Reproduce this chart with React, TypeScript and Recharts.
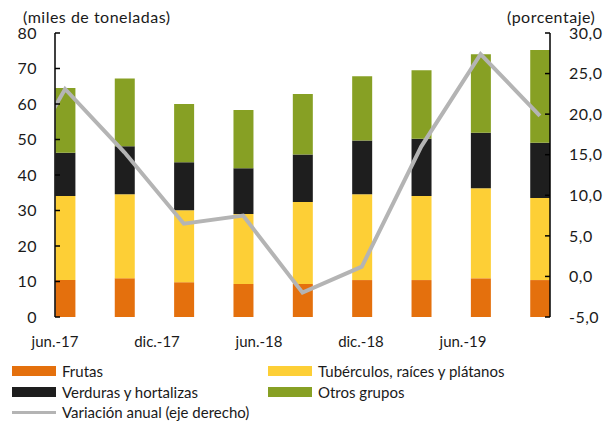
import React from 'react';
import { ComposedChart, Bar, Line, XAxis, YAxis } from 'recharts';

// trimestres (mar.-17 sólo aporta el tramo inicial de la línea, recortado)
const periodos = ['mar.-17', 'jun.-17', 'sep.-17', 'dic.-17', 'mar.-18', 'jun.-18', 'sep.-18', 'dic.-18', 'mar.-19', 'jun.-19'];
const posiciones = [-1, 0, 1, 2, 3, 4, 5, 6, 7, 8];

const frutas = [null, 10.4, 10.9, 9.8, 9.3, 9.3, 10.4, 10.4, 10.9, 10.4];
const tuberculos = [null, 23.7, 23.7, 20.3, 19.7, 23.1, 24.2, 23.7, 25.4, 23.1];
const verduras = [null, 12.2, 13.5, 13.5, 12.9, 13.4, 15.1, 16.1, 15.6, 15.6];
const otros = [null, 18.2, 19.1, 16.4, 16.4, 17.0, 18.1, 19.3, 22.1, 26.1];
const variacion = [10.2, 23.1, 15.3, 6.5, 7.5, -2.0, 1.2, 16.0, 27.4, 19.8];

// eje de fechas (meses desde jun.-17)
const mesesTicks = [0, 6, 12, 18, 24];
const mesesLabels = ['jun.-17', 'dic.-17', 'jun.-18', 'dic.-18', 'jun.-19'];
const marcasTicks = [7, 14, 21, 28];

const leftTicks = [0, 10, 20, 30, 40, 50, 60, 70, 80];
const rightTicks = [-5, 0, 5, 10, 15, 20, 25, 30];

const series = [
  { key: 'frutas', name: 'Frutas', color: '#E4700D' },
  { key: 'tuberculos', name: 'Tubérculos, raíces y plátanos', color: '#FDCF36' },
  { key: 'verduras', name: 'Verduras y hortalizas', color: '#1E1E1E' },
  { key: 'otros', name: 'Otros grupos', color: '#87A024' },
];
const lineColor = '#B4B4B4';

const data = posiciones.map((x, i) => ({
  x,
  mes: x * 3,
  periodo: periodos[i],
  frutas: frutas[i],
  tuberculos: tuberculos[i],
  verduras: verduras[i],
  otros: otros[i],
  variacion: variacion[i],
}));

const fmtPct = (v: number) => v.toFixed(1).replace('.', ',');
const EmptyTick = () => <g />;

const txt = '#1a1a1a';
const tickStyle = { fill: txt, fontSize: 16, letterSpacing: 0.5 };

const LegendItem = ({ color, label, left, top, line }: any) => (
  <div style={{ position: 'absolute', left, top, display: 'flex', alignItems: 'center', whiteSpace: 'nowrap' }}>
    <div style={{ width: 44, height: line ? 3 : 10, background: color, marginRight: 6 }} />
    <span>{label}</span>
  </div>
);

export default function App() {
  return (
    <div style={{ position: 'absolute', left: 0, top: 0, width: 613, height: 427, background: '#fff', fontFamily: 'Lato, sans-serif', fontSize: 15, color: txt }}>
      <ComposedChart width={613} height={427} data={data} margin={{ top: 33, right: 0, bottom: 80, left: 0 }}>
        <XAxis
          xAxisId="main"
          dataKey="x"
          type="number"
          domain={[-0.17, 8.17]}
          allowDataOverflow
          height={0}
          tick={false}
          tickLine={false}
          axisLine={{ stroke: '#000', strokeWidth: 1.5 }}
        />
        <XAxis
          xAxisId="marcas"
          dataKey="mes"
          type="number"
          domain={[0, 29.12]}
          allowDataOverflow
          ticks={marcasTicks}
          interval={0}
          height={0}
          tick={EmptyTick}
          tickSize={-5}
          tickLine={{ stroke: '#000', strokeWidth: 1.5 }}
          axisLine={false}
        />
        <XAxis
          xAxisId="meses"
          dataKey="mes"
          type="number"
          domain={[0, 29.12]}
          allowDataOverflow
          ticks={mesesTicks}
          interval={0}
          tickFormatter={(v: number) => mesesLabels[mesesTicks.indexOf(v)]}
          height={30}
          tickSize={0}
          tickMargin={19}
          tickLine={false}
          axisLine={false}
          tick={{ fill: txt, fontSize: 15 }}
        />
        <YAxis
          yAxisId="left"
          orientation="left"
          width={55}
          domain={[0, 80]}
          ticks={leftTicks}
          interval={0}
          tickSize={-5}
          tickMargin={23}
          tick={tickStyle}
          tickLine={{ stroke: '#000', strokeWidth: 1.5 }}
          axisLine={{ stroke: '#000', strokeWidth: 1.5 }}
        />
        <YAxis
          yAxisId="right"
          orientation="right"
          width={63}
          domain={[-5, 30]}
          ticks={rightTicks}
          interval={0}
          tickFormatter={fmtPct}
          tickSize={-5}
          tickMargin={24}
          tick={tickStyle}
          tickLine={{ stroke: '#000', strokeWidth: 1.5 }}
          axisLine={{ stroke: '#000', strokeWidth: 1.5 }}
        />
        {series.map((s) => (
          <Bar
            key={s.key}
            xAxisId="main"
            yAxisId="left"
            dataKey={s.key}
            name={s.name}
            stackId="a"
            fill={s.color}
            barSize={20}
            isAnimationActive={false}
          />
        ))}
        <Line
          xAxisId="main"
          yAxisId="right"
          dataKey="variacion"
          type="linear"
          stroke={lineColor}
          strokeWidth={4}
          dot={false}
          activeDot={false}
          isAnimationActive={false}
        />
      </ComposedChart>

      <div style={{ position: 'absolute', left: 23, top: 7, whiteSpace: 'nowrap', fontSize: 16, letterSpacing: 0.5 }}>(miles de toneladas)</div>
      <div style={{ position: 'absolute', left: 507, top: 7, whiteSpace: 'nowrap', fontSize: 16, letterSpacing: 0.5 }}>(porcentaje)</div>

      <LegendItem color={series[0].color} label={series[0].name} left={12} top={362} />
      <LegendItem color={series[1].color} label={series[1].name} left={268} top={362} />
      <LegendItem color={series[2].color} label={series[2].name} left={12} top={383} />
      <LegendItem color={series[3].color} label={series[3].name} left={268} top={383} />
      <LegendItem color={lineColor} label="Variación anual (eje derecho)" left={12} top={403} line />
    </div>
  );
}
